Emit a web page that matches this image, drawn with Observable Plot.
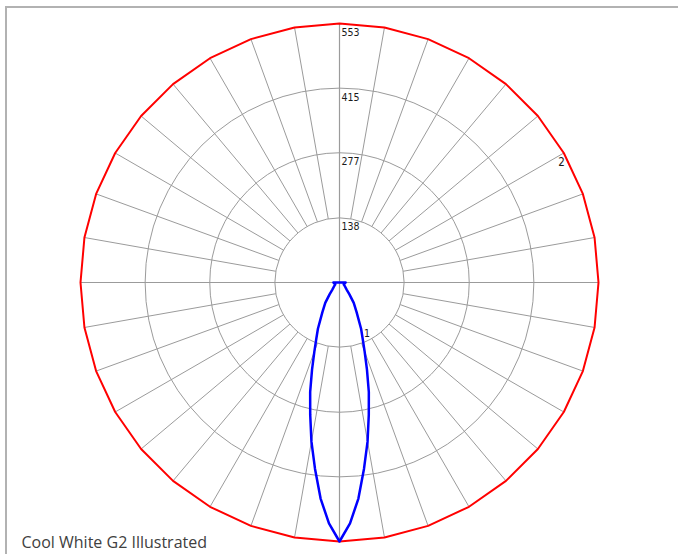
<!DOCTYPE html>
<html>
<head>
<meta charset="utf-8">
<script src="https://cdn.jsdelivr.net/npm/d3@7"></script>
<script src="https://cdn.jsdelivr.net/npm/@observablehq/plot@0.6"></script>
<style>
  html, body { margin: 0; padding: 0; background: #fff; }
  #wrap { position: relative; width: 678px; height: 554px; overflow: hidden; }
  #frame { position: absolute; left: 5px; top: 6px; right: -4px; bottom: -4px;
           border-top: 2px solid #b2b2b2; border-left: 2px solid #b2b2b2; pointer-events: none; }
</style>
</head>
<body>
<div id="wrap"><div id="frame"></div></div>
<script>
// ---- data ----
const ringTicks = [138, 277, 415, 553];
const gridRings = [138, 277, 415];
const spokeAngles = [10, 20, 30, 40, 50, 60, 70, 80, 100, 110, 120, 130, 140, 150, 160, 170,
                     190, 200, 210, 220, 230, 240, 250, 260, 280, 290, 300, 310, 320, 330, 340, 350];
const axisAngles = [0, 90];

// series 1 (blue): angle from nadir (degrees) and candela, mirrored to both sides
const blueAngles = [0, 2.5, 5, 7.5, 10, 12.5, 15, 17.5, 20, 22.5, 25, 30, 35, 40, 45, 50, 55, 60, 65, 70, 75, 80, 85, 90, 180];
const blueValues = [553, 515, 463, 401, 345, 289, 242, 195, 157, 129, 109, 73, 53, 33, 22, 17, 14, 12, 10, 10, 10, 11, 12, 13, 0];

// series 2 (red): angle from nadir and value
const redAngles = [-180, -170, -160, -150, -140, -130, -120, -110, -100, -90, -80, -70, -60, -50, -40, -30, -20, -10,
                   0, 10, 20, 30, 40, 50, 60, 70, 80, 90, 100, 110, 120, 130, 140, 150, 160, 170, 180];
const redValues = [553, 553, 553, 553, 553, 553, 553, 553, 553, 553, 553, 553, 553, 553, 553, 553, 553, 553,
                   553, 553, 553, 553, 553, 553, 553, 553, 553, 553, 553, 553, 553, 553, 553, 553, 553, 553, 553];

const seriesNames = ["1", "2"];
const captionText = "Cool White G2 Illustrated";

// ---- helpers: polar (angle from nadir, value) -> cartesian data units ----
const rad = (a) => a * Math.PI / 180;
const px = (a, v) => v * Math.sin(rad(a));
const py = (a, v) => -v * Math.cos(rad(a));

const blueRows = [];
for (let i = blueAngles.length - 1; i >= 0; i--) blueRows.push({a: -blueAngles[i], v: blueValues[i]});
for (let i = 1; i < blueAngles.length; i++) blueRows.push({a: blueAngles[i], v: blueValues[i]});
const bluePts = blueRows.map(d => ({x: px(d.a, d.v), y: py(d.a, d.v)}));
const redPts = redAngles.map((a, i) => ({x: px(a, redValues[i]), y: py(a, redValues[i])}));

const maxV = ringTicks[ringTicks.length - 1];
const spokes = spokeAngles.map(a => ({x1: px(a, gridRings[0]), y1: py(a, gridRings[0]), x2: px(a, maxV), y2: py(a, maxV)}));
const axes = axisAngles.map(a => ({x1: px(a, maxV), y1: py(a, maxV), x2: px(a + 180, maxV), y2: py(a + 180, maxV)}));

// series label anchors (from data points)
const label1 = {x: px(25, blueValues[blueAngles.indexOf(25)]), y: py(25, blueValues[blueAngles.indexOf(25)]), t: seriesNames[0]};
const label2 = {x: px(120, redValues[redAngles.indexOf(120)]), y: py(120, redValues[redAngles.indexOf(120)]), t: seriesNames[1]};

const gridColor = "#9b9b9b";
const plot = Plot.plot({
  width: 678,
  height: 554,
  marginLeft: 80,
  marginRight: 80,
  marginTop: 23,
  marginBottom: 13,
  x: {domain: [-maxV, maxV], axis: null},
  y: {domain: [-maxV, maxV], axis: null},
  r: {type: "linear", domain: [0, maxV], range: [0, 259]},
  style: {background: "transparent", fontFamily: "'DejaVu Sans Condensed', 'DejaVu Sans', sans-serif", fontSize: "10.5px"},
  marks: [
    Plot.dot(gridRings, {x: () => 0, y: () => 0, r: d => d, stroke: gridColor, strokeWidth: 1, fill: "none"}),
    Plot.link(spokes, {x1: "x1", y1: "y1", x2: "x2", y2: "y2", stroke: gridColor, strokeWidth: 1}),
    Plot.link(axes, {x1: "x1", y1: "y1", x2: "x2", y2: "y2", stroke: gridColor, strokeWidth: 1.2}),
    Plot.text(ringTicks, {x: () => 0, y: d => d, text: d => String(d), textAnchor: "start", lineAnchor: "top", dx: 2, dy: 5, fill: "#1a1a1a"}),
    Plot.line(redPts, {x: "x", y: "y", stroke: "#ff0000", strokeWidth: 2, curve: "linear"}),
    Plot.line(bluePts, {x: "x", y: "y", stroke: "#0000ff", strokeWidth: 2.5, curve: "linear", strokeLinejoin: "round"}),
    Plot.text([label1], {x: "x", y: "y", text: "t", textAnchor: "start", lineAnchor: "top", dx: 3, dy: 1, fill: "#1a1a1a"}),
    Plot.text([label2], {x: "x", y: "y", text: "t", textAnchor: "end", lineAnchor: "top", dx: 1, dy: 5, fill: "#1a1a1a", fontSize: 11.5}),
    Plot.text([captionText], {frameAnchor: "bottom-left", dx: -59, dy: 6, lineAnchor: "bottom", textAnchor: "start",
      fontSize: 16, fontFamily: "'Open Sans', sans-serif", fill: "#404040"})
  ]
});
document.getElementById("wrap").prepend(plot);
</script>
</body>
</html>
